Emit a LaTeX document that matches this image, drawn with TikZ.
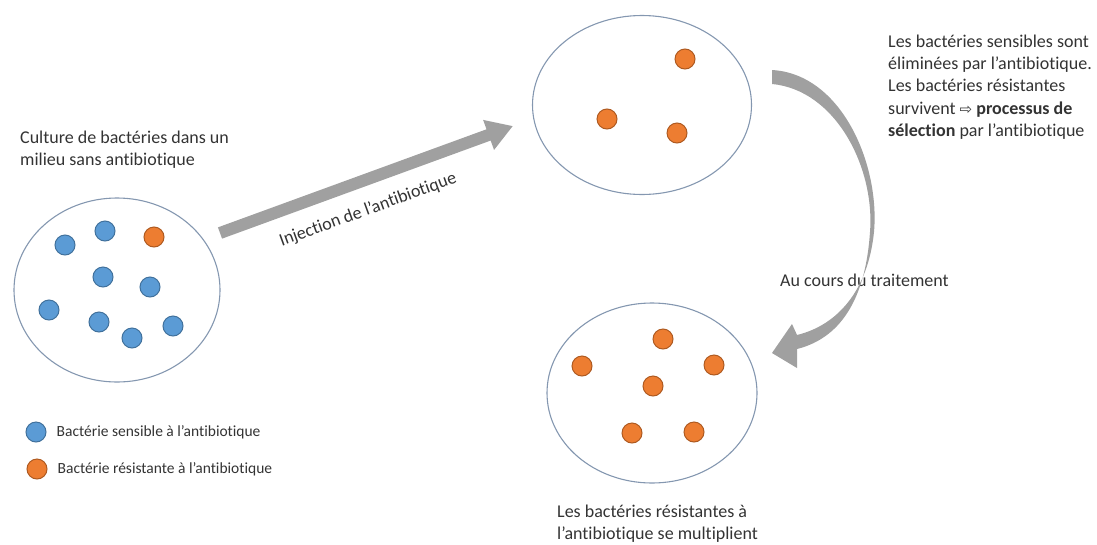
\documentclass[tikz,border=0pt]{standalone}
\usepackage{fontspec}
\setmainfont{Carlito}[Ligatures={TeX,CommonOff}]
\newfontfamily\dejavu{DejaVu Sans}
\usepackage{xcolor}
\usetikzlibrary{shapes.geometric, arrows.meta, positioning}

\definecolor{sensBlue}{HTML}{5B9BD5}
\definecolor{sensEdge}{HTML}{41719C}
\definecolor{resOrange}{HTML}{ED7D31}
\definecolor{resEdge}{HTML}{AE5A21}
\definecolor{dishLine}{HTML}{8497B0}
\definecolor{arrowGrey}{HTML}{A0A0A0}
\definecolor{textGrey}{HTML}{333333}

\tikzset{
  dish/.style={ellipse, draw=dishLine, line width=1.1pt, inner sep=0pt},
  sensible/.style={circle, fill=sensBlue, draw=sensEdge, line width=1pt, minimum size=20pt, inner sep=0pt},
  resistant/.style={circle, fill=resOrange, draw=resEdge, line width=1pt, minimum size=20pt, inner sep=0pt},
  caption/.style={align=left, anchor=west, inner sep=0pt, font=\fontsize{18}{22.3}\selectfont, text=textGrey},
  keytext/.style={anchor=west, inner sep=0pt, font=\fontsize{15.5}{18}\selectfont, text=textGrey}
}

\begin{document}
\begin{tikzpicture}[x=1pt, y=-1pt]

\useasboundingbox (0,0) rectangle (1097,544);

% the three cultures
\node [dish, minimum width=206pt, minimum height=184pt] (before) at (117,290) {};
\node [dish, minimum width=219pt, minimum height=179pt] (during) at (642,105) {};
\node [dish, minimum width=210pt, minimum height=180pt] (after) at (652,393) {};

\foreach \x/\y [count=\i] in {65/245, 105/231, 103/277, 150/287, 49/310, 99/322, 132/338, 173/326}
  \node [sensible] (sens-\i) at (\x,\y) {};
\node [resistant] (res-1) at (154,237) {};

\foreach \x/\y [count=\i] in {685/59, 607/119, 677/133}
  \node [resistant] (surv-\i) at (\x,\y) {};

\foreach \x/\y [count=\i] in {663/339, 582/366, 714/365, 653/386, 632/433, 694/432}
  \node [resistant] (mult-\i) at (\x,\y) {};

% texts
\node [caption] (culture) at (20,150) {Culture de bactéries dans un\\milieu sans antibiotique};
\node [caption] (selection) at (888,87) {Les bactéries sensibles sont\\éliminées par l'antibiotique.\\Les bactéries résistantes\\survivent {\dejavu\fontsize{15}{18}\selectfont ⇨} \textbf{processus de}\\\textbf{sélection} par l'antibiotique};
\node [caption] (multiply) at (557,524) {Les bactéries résistantes à\\l'antibiotique se multiplient};
\node [caption] (treatment) at (780,280) {Au cours du traitement};

% injection
\coordinate (inj-tail) at (220,233);
\coordinate (inj-tip) at (513,126);
\draw [draw=arrowGrey, line width=12pt, -{Triangle[width=30pt, length=26pt]}] (inj-tail) -- (inj-tip);
\node [caption, anchor=center, rotate=20] (injection) at (368,210) {Injection de l'antibiotique};

% during treatment
\fill [arrowGrey] (772,70) .. controls (842,74) and (880,165) .. (874,232)
  .. controls (868,290) and (838,325) .. (797,335)
  -- (792,324) -- (772,353) -- (797,368) -- (797,349)
  .. controls (845,337) and (866,292) .. (870,232)
  .. controls (875,168) and (836,90) .. (772,84) -- cycle;

% legend
\node [sensible] (key-sens) at (36,432) {};
\node [keytext, right=10pt of key-sens] (key-sens-text) {Bactérie sensible à l'antibiotique};
\node [resistant] (key-res) at (37,469) {};
\node [keytext, right=10pt of key-res] (key-res-text) {Bactérie résistante à l'antibiotique};

\end{tikzpicture}
\end{document}
